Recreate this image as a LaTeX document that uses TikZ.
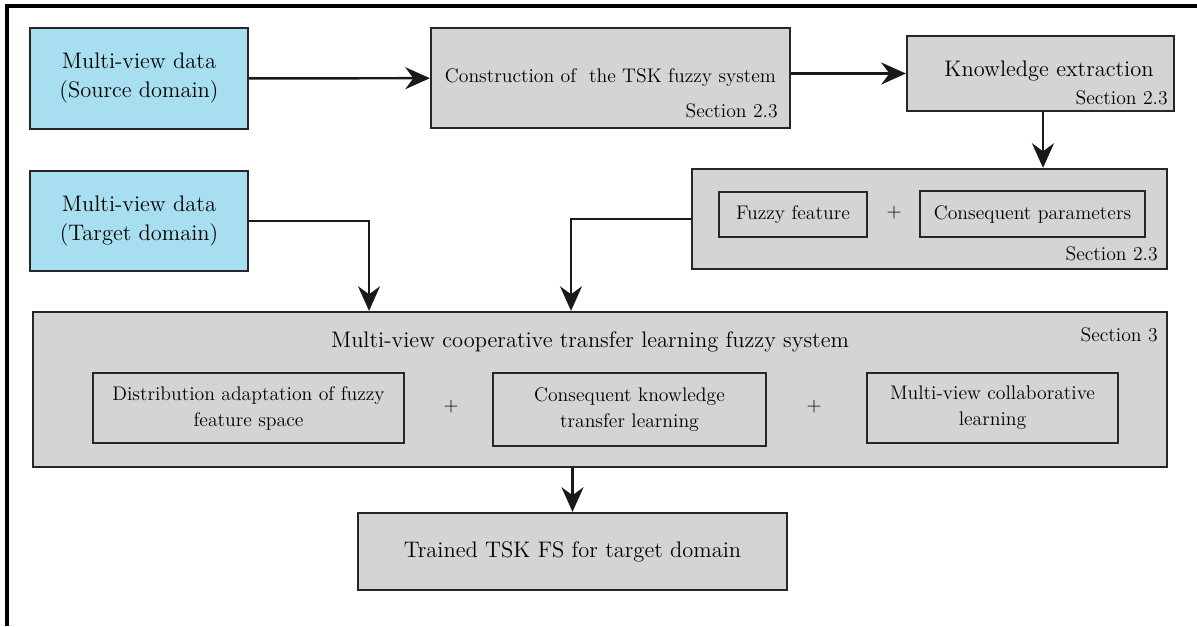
\documentclass[tikz,border=0pt]{standalone}
\usetikzlibrary{arrows.meta,positioning,calc}
\definecolor{viewblue}{RGB}{167,222,240}
\definecolor{boxgray}{RGB}{211,212,214}

\begin{document}
\begin{tikzpicture}[x=0.02cm,y=-0.02cm,>={Stealth[length=14pt,width=12.5pt]},
  big/.style={font=\fontsize{12.8}{16.5}\selectfont},
  sml/.style={font=\fontsize{11.2}{14.8}\selectfont},
  blk/.style={draw=black!85,line width=1.3pt,fill=boxgray,inner sep=0pt},
  datablk/.style={blk,fill=viewblue,big,align=center},
  sub/.style={draw=black!85,line width=1pt,inner sep=0pt,align=center,sml},
  sec/.style={sml,anchor=east,inner sep=0pt},
  arr/.style={->,line width=1.4pt,black!90}]
  \useasboundingbox (0,0) rectangle (1197,626);
  % frame on top and left
  \draw[line width=2.3pt] (7,626) -- (7,6) -- (1197,6);

  % first row
  \node[datablk,minimum width=4.36cm,minimum height=2.02cm] (src) at (139,78.5) {Multi-view data\\(Source domain)};
  \node[blk,sml,minimum width=7.18cm,minimum height=2.0cm] (cons) at (610.5,78) {Construction of~ the TSK fuzzy system};
  \node[sec] (cons-sec) at (778,111) {Section 2.3};
  \node[blk,minimum width=5.34cm,minimum height=1.5cm] (know) at (1040.5,73.5) {};
  \node[big,inner sep=0pt] (know-txt) at (1049,71) {Knowledge extraction};
  \node[sec] (know-sec) at (1168,98) {Section 2.3};
  \draw[arr] (src) -- (cons);
  \draw[arr] (cons.east |- know.west) -- (know.west);

  % second row
  \node[datablk,minimum width=4.36cm,minimum height=2.0cm] (tgt) at (139,221) {Multi-view data\\(Target domain)};
  \node[blk,minimum width=9.5cm,minimum height=2.0cm] (fz) at (929.5,219) {};
  \node[sub,minimum width=2.96cm,minimum height=0.9cm] (ff) at (793,214.5) {Fuzzy feature};
  \node[sml,inner sep=0pt] (plus1) at (894,213) {+};
  \node[sub,minimum width=4.5cm,minimum height=0.92cm] (cp) at (1032.5,214) {Consequent parameters};
  \node[sec] (fz-sec) at (1158,254) {Section 2.3};
  \draw[arr] (know.south -| 1043,0) -- (fz.north -| 1043,0);

  % transfer learning block
  \node[blk,minimum width=22.68cm,minimum height=3.1cm] (main) at (600,389.5) {};
  \node[big,inner sep=0pt] (main-txt) at (590,342) {Multi-view cooperative transfer learning fuzzy system};
  \node[sec] (main-sec) at (1158,335) {Section 3};
  \node[sub,minimum width=6.22cm,minimum height=1.4cm] (dist) at (248.5,408) {Distribution adaptation of fuzzy\\feature space};
  \node[sml,inner sep=0pt] (plus2) at (451,407) {+};
  \node[sub,minimum width=5.46cm,minimum height=1.46cm] (ckt) at (629.5,409.5) {Consequent knowledge\\transfer learning};
  \node[sml,inner sep=0pt] (plus3) at (814,407) {+};
  \node[sub,minimum width=5.02cm,minimum height=1.4cm] (mvc) at (992.5,408) {Multi-view collaborative\\learning};
  \draw[arr] (tgt.east) -| ([xshift=-4.62cm]main.north);
  \draw[arr] (fz.west) -| ([xshift=-0.58cm]main.north);

  % result
  \node[blk,big,minimum width=8.58cm,minimum height=1.54cm] (out) at (572.5,551.5) {Trained TSK FS for target domain};
  \draw[arr] (main.south -| out.north) -- (out.north);
\end{tikzpicture}
\end{document}
